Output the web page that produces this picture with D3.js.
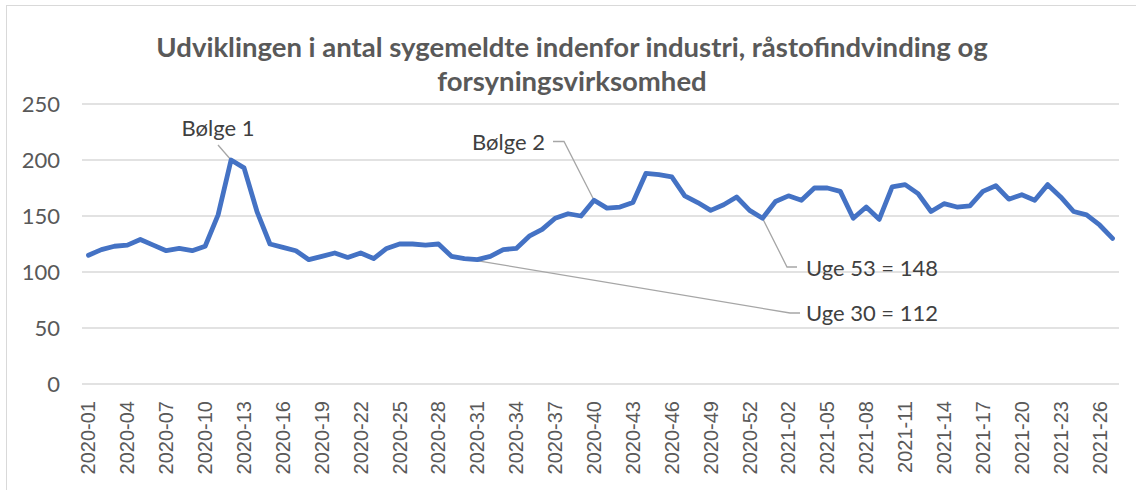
<!DOCTYPE html>
<html>
<head>
<meta charset="utf-8">
<script src="https://cdn.jsdelivr.net/npm/d3@7"></script>
<style>
  html, body { margin: 0; padding: 0; background: #fff; }
  svg { display: block; }
</style>
</head>
<body>
<svg id="chart" width="1136" height="490"></svg>
<script>
// ---- data ----
const weeks = [
  "2020-01","2020-02","2020-03","2020-04","2020-05","2020-06","2020-07","2020-08","2020-09","2020-10",
  "2020-11","2020-12","2020-13","2020-14","2020-15","2020-16","2020-17","2020-18","2020-19","2020-20",
  "2020-21","2020-22","2020-23","2020-24","2020-25","2020-26","2020-27","2020-28","2020-29","2020-30",
  "2020-31","2020-32","2020-33","2020-34","2020-35","2020-36","2020-37","2020-38","2020-39","2020-40",
  "2020-41","2020-42","2020-43","2020-44","2020-45","2020-46","2020-47","2020-48","2020-49","2020-50",
  "2020-51","2020-52","2020-53","2021-01","2021-02","2021-03","2021-04","2021-05","2021-06","2021-07",
  "2021-08","2021-09","2021-10","2021-11","2021-12","2021-13","2021-14","2021-15","2021-16","2021-17",
  "2021-18","2021-19","2021-20","2021-21","2021-22","2021-23","2021-24","2021-25","2021-26","2021-27"
];
const sygemeldte = [
  115,120,123,124,129,124,119,121,119,123,
  151,200,193,154,125,122,119,111,114,117,
  113,117,112,121,125,125,124,125,114,112,
  111,114,120,121,132,138,148,152,150,164,
  157,158,162,188,187,185,168,162,155,160,
  167,155,148,163,168,164,175,175,172,148,
  158,147,176,178,170,154,161,158,159,172,
  177,165,169,164,178,167,154,151,142,130
];
const xTickLabels = [
  "2020-01","2020-04","2020-07","2020-10","2020-13","2020-16","2020-19","2020-22","2020-25","2020-28",
  "2020-31","2020-34","2020-37","2020-40","2020-43","2020-46","2020-49","2020-52","2021-02","2021-05",
  "2021-08","2021-11","2021-14","2021-17","2021-20","2021-23","2021-26"
];
const yTicks = [0, 50, 100, 150, 200, 250];
const titleLines = ["Udviklingen i antal sygemeldte indenfor industri, råstofindvinding og", "forsyningsvirksomhed"];
const annotations = [
  { week: "2020-12", text: "Bølge 1" },
  { week: "2020-40", text: "Bølge 2" },
  { week: "2020-53", text: "Uge 53 = 148" },
  { week: "2020-30", text: "Uge 30 = 112" }
];

// ---- layout ----
const svg = d3.select("#chart");
const fontMain = "Lato, 'Noto Sans', sans-serif";
const textColor = "#595959";

const x = d3.scalePoint().domain(weeks).range([82, 1119]).padding(0.5);
const y = d3.scaleLinear().domain([0, 250]).range([384, 104]);

// chart border
svg.append("rect")
  .attr("x", 6.5).attr("y", 5.5).attr("width", 1140).attr("height", 500)
  .attr("fill", "none").attr("stroke", "#d9d9d9").attr("stroke-width", 1);

// title
svg.append("g").selectAll("text").data(titleLines).join("text")
  .attr("x", 572).attr("y", (d, i) => 57 + i * 34)
  .attr("text-anchor", "middle")
  .attr("font-family", fontMain).attr("font-weight", "bold")
  .attr("font-size", 27.5).attr("fill", textColor)
  .text(d => d);

// gridlines
svg.append("g").selectAll("line").data(yTicks).join("line")
  .attr("x1", 82).attr("x2", 1119)
  .attr("y1", d => y(d)).attr("y2", d => y(d))
  .attr("stroke", "#d9d9d9").attr("stroke-width", 1.3);

// y axis labels
svg.append("g").selectAll("text").data(yTicks).join("text")
  .attr("x", 60).attr("y", d => y(d)).attr("dy", "0.35em")
  .attr("text-anchor", "end")
  .attr("font-family", fontMain).attr("font-size", 22).attr("fill", textColor)
  .text(d => d);

// x tick labels
svg.append("g").selectAll("text").data(xTickLabels).join("text")
  .attr("transform", d => `translate(${x(d)},401) rotate(-90)`)
  .attr("dy", "0.35em")
  .attr("text-anchor", "end")
  .attr("font-family", "'Liberation Sans', Arial, sans-serif").attr("font-size", 20).attr("fill", textColor)
  .text(d => d);

// leader lines
const pt = w => [x(w), y(sygemeldte[weeks.indexOf(w)])];
const leaders = [
  [[218, 145], pt("2020-12")],
  [[553, 141.5], [564, 141.5], pt("2020-40")],
  [pt("2020-53"), [787, 267], [797, 267]],
  [pt("2020-30"), [790, 313], [800, 313]]
];
svg.append("g").selectAll("path").data(leaders).join("path")
  .attr("d", d => d3.line()(d))
  .attr("fill", "none").attr("stroke", "#a6a6a6").attr("stroke-width", 1.3);

// line
svg.append("path")
  .datum(sygemeldte)
  .attr("d", d3.line().x((d, i) => x(weeks[i])).y(d => y(d)))
  .attr("fill", "none").attr("stroke", "#4472C4").attr("stroke-width", 4.8)
  .attr("stroke-linejoin", "round").attr("stroke-linecap", "round");

// annotation labels
const annPos = {
  "Bølge 1": { x: 218, y: 128, anchor: "middle" },
  "Bølge 2": { x: 545, y: 142, anchor: "end" },
  "Uge 53 = 148": { x: 806, y: 268, anchor: "start" },
  "Uge 30 = 112": { x: 806, y: 313, anchor: "start" }
};
svg.append("g").selectAll("text").data(annotations).join("text")
  .attr("x", d => annPos[d.text].x).attr("y", d => annPos[d.text].y).attr("dy", "0.35em")
  .attr("text-anchor", d => annPos[d.text].anchor)
  .attr("font-family", fontMain).attr("font-size", 22).attr("fill", "#404040")
  .text(d => d.text);
</script>
</body>
</html>
